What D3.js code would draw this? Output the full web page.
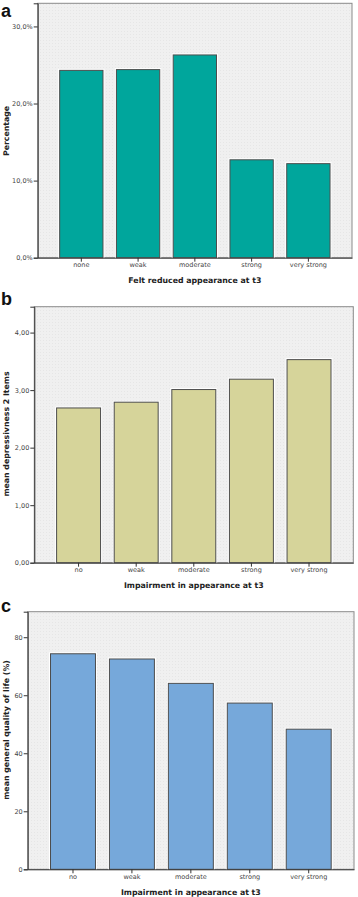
<!DOCTYPE html>
<html>
<head>
<meta charset="utf-8">
<script src="https://cdn.jsdelivr.net/npm/d3@7"></script>
<style>
  body { margin: 0; background: #fff; }
  svg { display: block; }
</style>
</head>
<body>
<svg id="chart" width="358" height="897"></svg>
<script>
// panel a
const catsA = ["none", "weak", "moderate", "strong", "very strong"];
const valsA = [24.3, 24.4, 26.3, 12.7, 12.2];
const ticksA = [0, 10, 20, 30];

// panel b
const catsB = ["no", "weak", "moderate", "strong", "very strong"];
const valsB = [2.69, 2.79, 3.01, 3.19, 3.53];
const ticksB = [0, 1, 2, 3, 4];

// panel c
const catsC = ["no", "weak", "moderate", "strong", "very strong"];
const valsC = [74.3, 72.5, 64.1, 57.3, 48.3];
const ticksC = [0, 20, 40, 60, 80];

const svg = d3.select("#chart");

// spss-like dotted plot background
const defs = svg.append("defs");
const pat = defs.append("pattern")
  .attr("id", "dots")
  .attr("width", 3).attr("height", 3)
  .attr("patternUnits", "userSpaceOnUse");
pat.append("rect").attr("width", 3).attr("height", 3).attr("fill", "#f0f0f0");
pat.append("rect").attr("x", 1).attr("y", 1).attr("width", 1).attr("height", 1).attr("fill", "#e6e6e6");

function drawPanel(o) {
  const x = d3.scaleBand()
    .domain(o.cats)
    .range([o.left, o.right])
    .paddingInner(0.237)
    .paddingOuter(0.387);

  const y = d3.scaleLinear()
    .domain([0, o.yMax])
    .range([o.bottom, o.top]);

  const g = svg.append("g");

  g.append("rect")
    .attr("x", o.left).attr("y", o.top)
    .attr("width", o.right - o.left).attr("height", o.bottom - o.top)
    .attr("fill", "url(#dots)")
    .attr("stroke", "#8a8a8a")
    .attr("stroke-width", 1);

  // white halo first, then the filled bar
  g.selectAll(".halo")
    .data(o.vals)
    .enter().append("rect")
    .attr("class", "halo")
    .attr("x", (d, i) => x(o.cats[i]))
    .attr("y", d => y(d))
    .attr("width", x.bandwidth())
    .attr("height", d => o.bottom - y(d))
    .attr("fill", "none")
    .attr("stroke", "#fff")
    .attr("stroke-width", 3);

  g.selectAll(".bar")
    .data(o.vals)
    .enter().append("rect")
    .attr("class", "bar")
    .attr("x", (d, i) => x(o.cats[i]))
    .attr("y", d => y(d))
    .attr("width", x.bandwidth())
    .attr("height", d => o.bottom - y(d))
    .attr("fill", o.color)
    .attr("stroke", "#4d4d4d")
    .attr("stroke-width", 1);

  const styleAxis = s => {
    s.select(".domain").attr("stroke", "#333");
    s.selectAll(".tick line").attr("stroke", "#333");
    s.selectAll(".tick text")
      .attr("fill", "#444")
      .attr("font-family", "DejaVu Sans, sans-serif")
      .attr("font-size", 6.5);
  };

  g.append("g")
    .attr("transform", `translate(${o.left},0)`)
    .call(d3.axisLeft(y).tickValues(o.ticks).tickSize(4).tickPadding(1).tickFormat(o.fmt))
    .call(styleAxis);

  g.append("g")
    .attr("transform", `translate(0,${o.bottom})`)
    .call(d3.axisBottom(x).tickSize(4).tickPadding(1).tickSizeOuter(0))
    .call(styleAxis);

  g.append("text")
    .attr("x", (o.left + o.right) / 2)
    .attr("y", o.bottom + 25.5)
    .attr("text-anchor", "middle")
    .attr("font-family", "DejaVu Sans, sans-serif")
    .attr("font-weight", "bold")
    .attr("font-size", 7.8)
    .attr("fill", "#222")
    .text(o.xTitle);

  g.append("text")
    .attr("transform", `translate(${o.yTitleX},${o.yTitleY}) rotate(-90)`)
    .attr("text-anchor", "middle")
    .attr("font-family", "DejaVu Sans, sans-serif")
    .attr("font-weight", "bold")
    .attr("font-size", 7.8)
    .attr("fill", "#222")
    .text(o.yTitle);

  g.append("text")
    .attr("x", 1)
    .attr("y", o.letterY)
    .attr("font-family", "Liberation Sans, Arial, sans-serif")
    .attr("font-weight", "bold")
    .attr("font-size", 18)
    .attr("fill", "#111")
    .text(o.letter);
}

const comma = f => v => f(v).replace(".", ",");

drawPanel({
  cats: catsA, vals: valsA, ticks: ticksA, yMax: 33.0,
  left: 37.7, right: 352, top: 3.3, bottom: 257.7,
  color: "#00a69c",
  fmt: v => comma(d3.format(".1f"))(v) + "%",
  xTitle: "Felt reduced appearance at t3",
  yTitle: "Percentage",
  yTitleX: 9, yTitleY: 131,
  letter: "a", letterY: 16.5
});

drawPanel({
  cats: catsB, vals: valsB, ticks: ticksB, yMax: 4.45,
  left: 34.3, right: 353.3, top: 306.7, bottom: 562.7,
  color: "#d6d49a",
  fmt: comma(d3.format(".2f")),
  xTitle: "Impairment in appearance at t3",
  yTitle: "mean depressivness 2 Items",
  yTitleX: 9, yTitleY: 434,
  letter: "b", letterY: 305
});

drawPanel({
  cats: catsC, vals: valsC, ticks: ticksC, yMax: 88.8,
  left: 27.7, right: 354, top: 611.7, bottom: 869.3,
  color: "#76a8da",
  fmt: d3.format("d"),
  xTitle: "Impairment in appearance at t3",
  yTitle: "mean general quality of life (%)",
  yTitleX: 9, yTitleY: 730,
  letter: "c", letterY: 612
});
</script>
</body>
</html>
